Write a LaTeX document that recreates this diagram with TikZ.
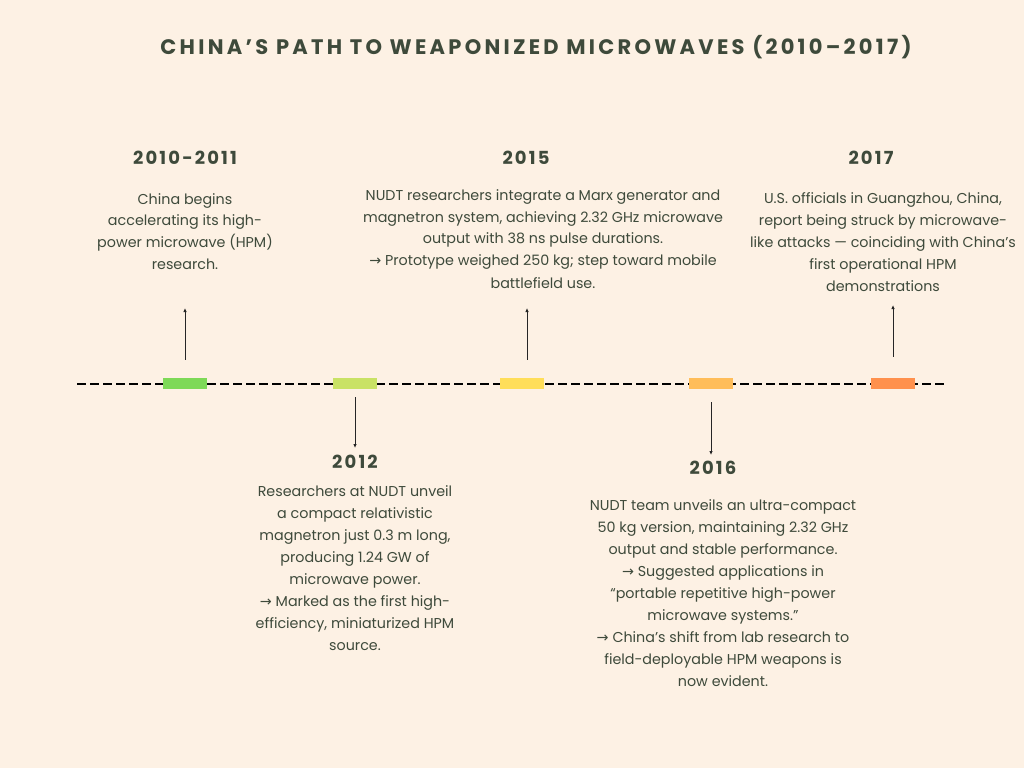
\documentclass[tikz,border=0pt]{standalone}
\usepackage{fontspec}
\setmainfont{Poppins}
\newfontfamily\arrowfont{DejaVu Sans}
\newcommand{\toarrow}{{\arrowfont →}}
\usetikzlibrary{arrows.meta,positioning}

\definecolor{paper}{HTML}{FDF1E4}
\definecolor{ink}{HTML}{3E4A3B}
\definecolor{mkgreen}{HTML}{7ED957}
\definecolor{mklime}{HTML}{C9E265}
\definecolor{mkyellow}{HTML}{FFDE59}
\definecolor{mkamber}{HTML}{FFBD59}
\definecolor{mkorange}{HTML}{FF914D}

\begin{document}
\begin{tikzpicture}[%
    x=1pt, y=-1pt,              % work in screen pixels, y going down
    node distance=28pt,         % heading to body gap
    ]
% -------------------------------------------------
% Styles
\tikzset{
  title/.style={font=\bfseries\fontsize{21}{24}\selectfont\addfontfeature{LetterSpace=15.5}, text=ink, inner sep=0pt},
  year/.style={font=\bfseries\fontsize{18}{20}\selectfont\addfontfeature{LetterSpace=12}, text=ink, inner sep=0pt},
  body/.style={align=center, font=\fontsize{14.3}{22}\selectfont, text=ink, inner sep=0pt},
  marker/.style={minimum width=44pt, minimum height=11pt, inner sep=0pt},
  axis/.style={line width=2pt, dash pattern=on 9pt off 4pt, black},
  pin/.style={-{Latex[length=4pt,width=3.5pt]}, line width=0.9pt, black!85}
}
% -------------------------------------------------
% Canvas
\fill[paper] (0,0) rectangle (1024,768);
\useasboundingbox (0,0) rectangle (1024,768);

\node[title] (head) at (536,47) {CHINA’S PATH TO WEAPONIZED MICROWAVES (2010–2017)};

% The time axis and its markers
\coordinate (axisL) at (77,383.5);
\coordinate (axisR) at (946,383.5);
\draw[axis] (axisL) -- (axisR);

\node[marker, fill=mkgreen]  (m2010) at (185,383.5) {};
\node[marker, fill=mklime]   (m2012) at (355,383.5) {};
\node[marker, fill=mkyellow] (m2015) at (522,383.5) {};
\node[marker, fill=mkamber]  (m2016) at (711,383.5) {};
\node[marker, fill=mkorange] (m2017) at (893,383.5) {};

% Year headings
\node[year] (y2010) at (185,158) {2010-2011};
\node[year] (y2012) at (355,462) {2012};
\node[year] (y2015) at (526,158) {2015};
\node[year] (y2016) at (713,468) {2016};
\node[year] (y2017) at (871,158) {2017};

% Event texts
\node[body, below=of y2010] (t2010) {China begins\\ accelerating its high-\\ power microwave (HPM)\\ research.};
\node[body, below=of y2012, yshift=12pt] (t2012) {Researchers at NUDT unveil\\ a compact relativistic\\ magnetron just 0.3 m long,\\ producing 1.24 GW of\\ microwave power.\\ \toarrow{} Marked as the first high-\\ efficiency, miniaturized HPM\\ source.};
\node[body, below=of y2015, xshift=17pt, yshift=4pt] (t2015) {NUDT researchers integrate a Marx generator and\\ magnetron system, achieving 2.32 GHz microwave\\ output with 38 ns pulse durations.\\ \toarrow{} Prototype weighed 250 kg; step toward mobile\\ battlefield use.};
\node[body, below=of y2016, xshift=10pt, yshift=4pt] (t2016) {NUDT team unveils an ultra-compact\\ 50 kg version, maintaining 2.32 GHz\\ output and stable performance.\\ \toarrow{} Suggested applications in\\ “portable repetitive high-power\\ microwave systems.”\\ \toarrow{} China’s shift from lab research to\\ field-deployable HPM weapons is\\ now evident.};
\node[body, below=of y2017, xshift=12pt, yshift=1pt] (t2017) {U.S. officials in Guangzhou, China,\\ report being struck by microwave-\\ like attacks — coinciding with China’s\\ first operational HPM\\ demonstrations};

% Pointers from the axis towards the texts
\coordinate (p2010) at (185,308);
\coordinate (p2012) at (355,448);
\coordinate (p2015) at (527,308);
\coordinate (p2016) at (711,455);
\coordinate (p2017) at (893,305);

\draw[pin, shorten <=18pt] (m2010.north -| p2010) -- (p2010);
\draw[pin, shorten <=8pt]  (m2012.south -| p2012) -- (p2012);
\draw[pin, shorten <=18pt] (m2015.north -| p2015) -- (p2015);
\draw[pin, shorten <=13pt] (m2016.south -| p2016) -- (p2016);
\draw[pin, shorten <=21pt] (m2017.north -| p2017) -- (p2017);
% -------------------------------------------------
\end{tikzpicture}
\end{document}
